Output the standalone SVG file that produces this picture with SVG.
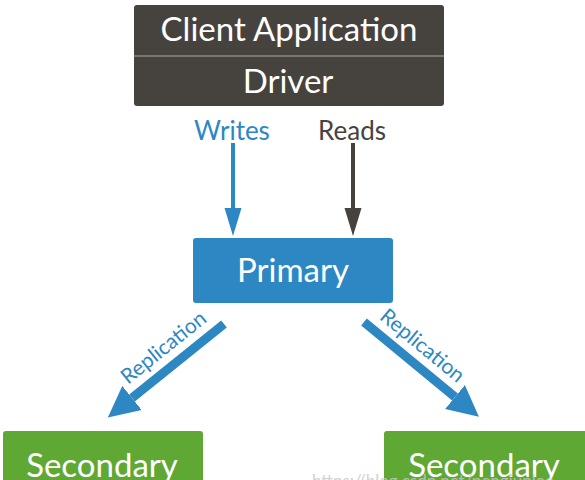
<svg xmlns="http://www.w3.org/2000/svg" width="585" height="480" viewBox="0 0 585 480">
<style>
.t{font-family:Lato,"Open Sans","Liberation Sans",sans-serif;text-anchor:middle}
.w{fill:#ffffff;font-size:33px}
.blue{fill:#2d87c3}
.dark{fill:#46433f}
.lbl{font-size:26px}
.rep{font-size:21px;fill:#2d87c3}
</style>
<defs>
<marker id="hBig" markerUnits="userSpaceOnUse" markerWidth="32" markerHeight="32" viewBox="0 -16 32 32" refX="0" refY="0" orient="auto"><path d="M0,-15.5 L31,0 L0,15.5 z" fill="#2d87c3"/></marker>
<marker id="hBlue" markerUnits="userSpaceOnUse" markerWidth="28" markerHeight="18" viewBox="0 -9 28 18" refX="0" refY="0" orient="auto"><path d="M0,-8.5 L28,0 L0,8.5 z" fill="#2d87c3"/></marker>
<marker id="hDark" markerUnits="userSpaceOnUse" markerWidth="28" markerHeight="18" viewBox="0 -9 28 18" refX="0" refY="0" orient="auto"><path d="M0,-8.5 L28,0 L0,8.5 z" fill="#46433f"/></marker>
</defs>
<rect width="585" height="480" fill="#ffffff"/>
<g id="client">
<rect x="134" y="5" width="310" height="101" rx="3" fill="#46433f"/>
<line x1="134" y1="56" x2="444" y2="56" stroke="#8a8782" stroke-width="1.5"/>
<text class="t w" x="289" y="41">Client Application</text>
<text class="t w" x="288" y="93">Driver</text>
</g>
<g id="primary">
<rect x="193" y="238" width="200" height="65" rx="3" fill="#2d87c3"/>
<text class="t w" x="293" y="282">Primary</text>
</g>
<g id="secondary1">
<rect x="3" y="431" width="200" height="60" rx="3" fill="#5fa833"/>
<text class="t w" x="102" y="477">Secondary</text>
</g>
<g id="secondary2">
<rect x="384" y="431" width="210" height="60" rx="3" fill="#5fa833"/>
<text class="t w" x="484" y="477">Secondary</text>
</g>
<g id="connectors">
<line x1="233" y1="143" x2="233" y2="208" stroke="#2d87c3" stroke-width="4" marker-end="url(#hBlue)"/>
<line x1="353" y1="143" x2="353" y2="208" stroke="#46433f" stroke-width="4" marker-end="url(#hDark)"/>
<line x1="224" y1="324" x2="132" y2="398" stroke="#2d87c3" stroke-width="9" marker-end="url(#hBig)"/>
<line x1="364" y1="322" x2="455" y2="397" stroke="#2d87c3" stroke-width="9" marker-end="url(#hBig)"/>
<text class="t lbl blue" x="232" y="140">Writes</text>
<text class="t lbl dark" x="352" y="140">Reads</text>
<text class="t rep" transform="translate(168,353) rotate(-38.7)">Replication</text>
<text class="t rep" transform="translate(418,351) rotate(39.6)">Replication</text>
</g>
<text x="312" y="487" font-family="Lato,'Liberation Sans',sans-serif" font-size="17" fill="#c8c8c8" opacity="0.8">https://blog.csdn.net/pengjunlee</text>
</svg>
